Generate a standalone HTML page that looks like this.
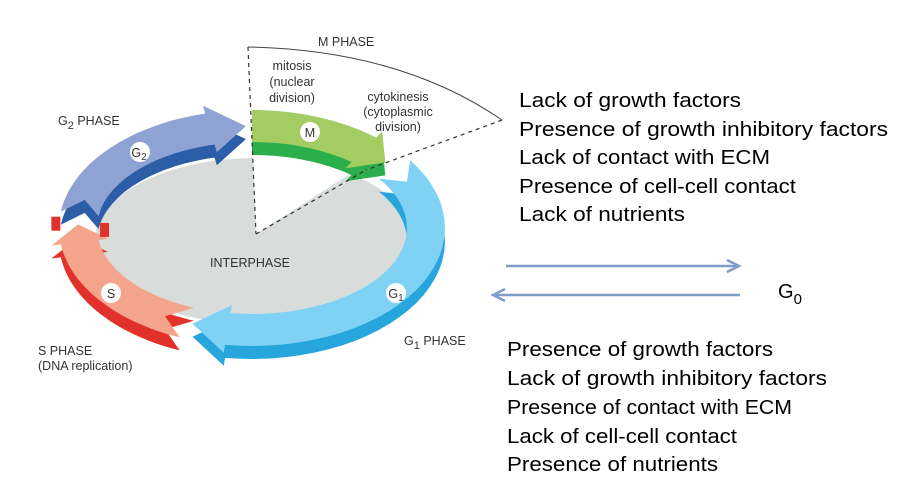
<!DOCTYPE html>
<html><head><meta charset="utf-8"><style>
html,body{margin:0;padding:0;background:#fff;width:905px;height:489px;overflow:hidden}
svg{display:block}
.l{font-family:"Liberation Sans",Arial,sans-serif;font-size:12.5px;fill:#333}
.r{font-family:"Liberation Sans",Arial,sans-serif;font-size:20px;fill:#000}
</style></head><body>
<svg id="s" width="905" height="489" viewBox="0 0 905 489" xmlns="http://www.w3.org/2000/svg">
<ellipse cx="255" cy="241" rx="160" ry="83" fill="#d8dcdb"/>
<polygon points="252,122 256,234 372,160" fill="#fff"/>
<g id="ring"></g>
<path d="M248,47 Q400,50 502,120" fill="none" stroke="#444" stroke-width="1"/>
<g stroke="#333" stroke-width="1.2" stroke-dasharray="4,4" fill="none">
<line x1="248" y1="47" x2="256" y2="234"/>
<line x1="502" y1="120" x2="366" y2="170"/>
<line x1="256" y1="234" x2="366" y2="170"/>
</g>
<text class="l" x="318" y="46">M PHASE</text>
<text class="l" x="292" y="70" text-anchor="middle">mitosis</text>
<text class="l" x="292" y="86" text-anchor="middle">(nuclear</text>
<text class="l" x="292" y="102" text-anchor="middle">division)</text>
<text class="l" x="398" y="101" text-anchor="middle">cytokinesis</text>
<text class="l" x="398" y="116" text-anchor="middle">(cytoplasmic</text>
<text class="l" x="398" y="131" text-anchor="middle">division)</text>
<text class="l" x="58" y="125">G<tspan dy="4" font-size="11">2</tspan><tspan dy="-4"> PHASE</tspan></text>
<text class="l" x="404" y="345">G<tspan dy="4" font-size="11">1</tspan><tspan dy="-4"> PHASE</tspan></text>
<text class="l" x="38" y="355">S PHASE</text>
<text class="l" x="38" y="370">(DNA replication)</text>
<text class="l" x="250" y="267" text-anchor="middle" font-size="13">INTERPHASE</text>
<circle cx="310" cy="132" r="10" fill="#fff"/><text class="l" x="310" y="137" text-anchor="middle">M</text>
<circle cx="140" cy="152" r="10" fill="#fff"/><text class="l" x="139" y="157" text-anchor="middle">G<tspan font-size="10" dy="3">2</tspan></text>
<circle cx="111" cy="293" r="10" fill="#fff"/><text class="l" x="111" y="298" text-anchor="middle">S</text>
<circle cx="396" cy="293" r="10" fill="#fff"/><text class="l" x="396" y="298" text-anchor="middle">G<tspan font-size="10" dy="3">1</tspan></text>
<g stroke="#7b9dc7" stroke-width="2.5" fill="none">
<line x1="506" y1="266" x2="736" y2="266"/><polyline points="727,260 739,266 727,272"/>
<line x1="740" y1="295" x2="496" y2="295"/><polyline points="505,289 493,295 505,301"/>
</g>
<text class="r" x="778" y="298" font-size="23">G<tspan font-size="15" dy="6">0</tspan></text>
<text class="r" x="519" y="107" textLength="222" lengthAdjust="spacingAndGlyphs">Lack of growth factors</text>
<text class="r" x="519" y="136" textLength="369" lengthAdjust="spacingAndGlyphs">Presence of growth inhibitory factors</text>
<text class="r" x="519" y="164" textLength="251" lengthAdjust="spacingAndGlyphs">Lack of contact with ECM</text>
<text class="r" x="519" y="193" textLength="277" lengthAdjust="spacingAndGlyphs">Presence of cell-cell contact</text>
<text class="r" x="519" y="221" textLength="166" lengthAdjust="spacingAndGlyphs">Lack of nutrients</text>
<text class="r" x="507" y="356" textLength="266" lengthAdjust="spacingAndGlyphs">Presence of growth factors</text>
<text class="r" x="507" y="385" textLength="320" lengthAdjust="spacingAndGlyphs">Lack of growth inhibitory factors</text>
<text class="r" x="507" y="414" textLength="285" lengthAdjust="spacingAndGlyphs">Presence of contact with ECM</text>
<text class="r" x="507" y="443" textLength="230" lengthAdjust="spacingAndGlyphs">Lack of cell-cell contact</text>
<text class="r" x="507" y="471" textLength="211" lengthAdjust="spacingAndGlyphs">Presence of nutrients</text>
</svg>
<script>
(function(){
var cx=252,cy=228,Ro=[193,118],Ri=[155,86],D=13;
function P(a,t){var r=Math.PI/180*a;var rx=Ri[0]+t*(Ro[0]-Ri[0]),ry=Ri[1]+t*(Ro[1]-Ri[1]);return [cx+rx*Math.cos(r),cy+ry*Math.sin(r)];}
function seg(a0,a1,head,notch){
 var pts=[],n=30,i,a,ah=a1-head;
 for(i=0;i<=n;i++){a=a0+(ah-a0)*i/n;pts.push(P(a,1));}
 pts.push(P(ah,1.25));pts.push(P(a1,0.5));pts.push(P(ah,-0.25));
 for(i=n;i>=0;i--){a=a0+(ah-a0)*i/n;pts.push(P(a,0));}
 if(notch){pts.push(P(a0+notch,0.5));}
 return pts;}
function poly(pts,dy,fill){return '<polygon points="'+pts.map(function(p){return p[0].toFixed(1)+','+(p[1]+dy).toFixed(1)}).join(' ')+'" fill="'+fill+'"/>';}
var S=[
 [188,268,12,8,'#8fa2d4','#2c5ea8'],
 [112,182,10,8,'#f3a48b','#e2312a'],
 [-35,110,12,8,'#7fd2f4','#27a6de'],
 [-90,-40,10,0,'#a3cc63','#2cae4c']];
var h='';
S.forEach(function(s){var p=seg(s[0],s[1],s[2],s[3]);h+=poly(p,D,s[5]);});
S.forEach(function(s){var p=seg(s[0],s[1],s[2],s[3]);h+=poly(p,0,s[4]);});
var f1=P(188,1.2),f2=P(188,-0.2);
h+='<rect x="'+(f1[0]-2)+'" y="'+(f1[1]+6)+'" width="9" height="14" fill="#e2312a"/>';
h+='<rect x="'+(f2[0]-6)+'" y="'+(f2[1]+6)+'" width="9" height="14" fill="#e2312a"/>';
document.getElementById('ring').innerHTML=h;
})();
</script>
</body></html>
